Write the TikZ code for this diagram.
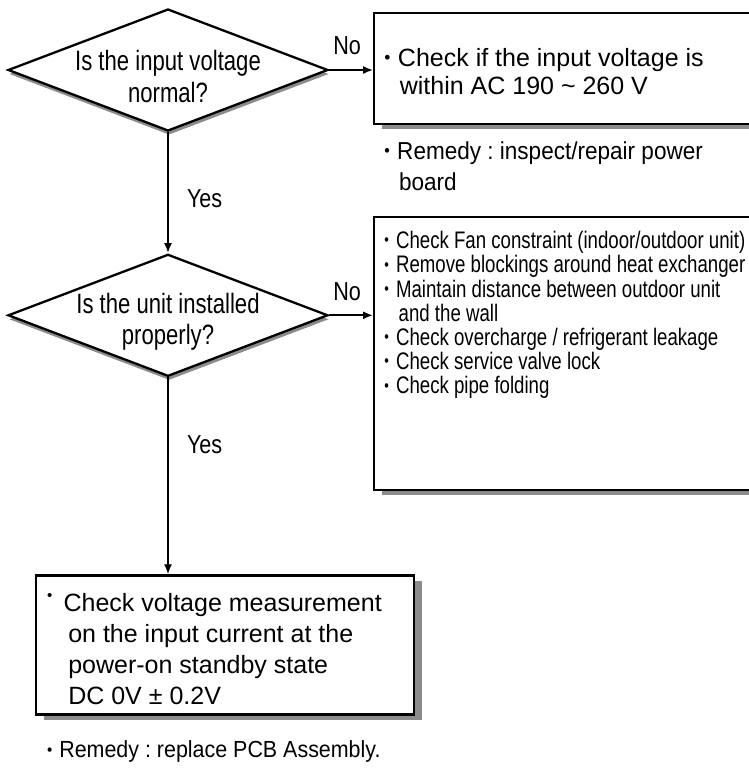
\documentclass[tikz,border=0pt]{standalone}
\usepackage{fontspec}
\setmainfont{Liberation Sans}
\newfontfamily\narrowfont[FakeStretch=0.79]{Liberation Sans}
\newfontfamily\listfont[FakeStretch=0.78]{Liberation Sans}
\newfontfamily\labelfont[FakeStretch=0.83]{Liberation Sans}
\newfontfamily\remedyfont[FakeStretch=0.92]{Liberation Sans}
\usepackage{graphicx}
\usepackage{tikz}
\usetikzlibrary{shapes,arrows,arrows.meta,positioning,calc,shadows}
\frenchspacing
\tikzstyle{decision} = [diamond, draw, line width=2.3pt, fill=white, aspect=2.62, minimum width=320pt, minimum height=122pt, inner sep=-20pt, align=center, font=\narrowfont\fontsize{28}{31.5}\selectfont, drop shadow={shadow xshift=1pt, shadow yshift=-4pt, fill=black!45, opacity=1}]
\tikzstyle{block} = [rectangle, draw, line width=2.3pt, fill=white, drop shadow={shadow xshift=8pt, shadow yshift=-5pt, fill=black!45, opacity=1}]
\tikzstyle{note} = [align=left, inner sep=0pt]
\tikzstyle{line} = [draw, -{Latex[length=10pt, width=8pt]}, line width=2pt]
\tikzstyle{answer} = [inner sep=0pt, font=\labelfont\fontsize{26}{28}\selectfont]
\newcommand{\bul}{\raisebox{0.12em}{\scalebox{0.7}{\textbullet}}\hspace{0.3em}}

\begin{document}
\begin{tikzpicture}[x=1pt, y=1pt, node distance=44pt]
        \path [use as bounding box, clip] (0,0) rectangle (749,-771);
        % Nodes
        \node [decision] (voltage) at (168,-70) {\rule{0pt}{33pt}Is the input voltage\\normal?};
        \node [block, right=44pt of voltage, yshift=1.5pt, minimum width=390pt, minimum height=111pt] (acbox) {};
        \node [decision, below=121pt of voltage] (install) {\rule{0pt}{33pt}Is the unit installed\\properly?};
        \node [block, right=44pt of install, yshift=-38.5pt, minimum width=390pt, minimum height=273pt] (checks) {};
        \node [block, below=197pt of install, xshift=57pt, minimum width=378pt, minimum height=139pt] (standby) {};

        % Texts
        \node [note, below right=36pt and 11pt of acbox.north west, font=\fontsize{25}{28}\selectfont] (actext)
            {\bul Check if the input voltage is\\\hspace{0.62em}within AC 190 {\textasciitilde} 260 V};
        \node [note, below right=16.5pt and 11pt of acbox.south west, font=\remedyfont\fontsize{24.5}{30.5}\selectfont] (acremedy)
            {\bul Remedy : inspect/repair power\\\hspace{0.6em}board};
        \node [note, below right=15pt and 11pt of checks.north west, font=\listfont\fontsize{23.9}{24.2}\selectfont] (checktext)
            {\bul Check Fan constraint (indoor/outdoor unit)\\
             \bul Remove blockings around heat exchanger\\
             \bul Maintain distance between outdoor unit\\
             \hspace{0.6em}and the wall\\
             \bul Check overcharge / refrigerant leakage\\
             \bul Check service valve lock\\
             \bul Check pipe folding};
        \node [note, below right=19pt and 12pt of standby.north west, font=\fontsize{25}{31}\selectfont] (standbytext)
            {\raisebox{0.45em}{\scalebox{0.6}{\textbullet}}\hspace{0.45em}Check voltage measurement\\
             \hspace{0.85em}on the input current at the\\
             \hspace{0.85em}power-on standby state\\
             \hspace{0.85em}DC 0V ± 0.2V};
        \node [note, below right=25pt and 12pt of standby.south west, font=\remedyfont\fontsize{23.3}{26}\selectfont] (pcbremedy)
            {\bul Remedy : replace PCB Assembly.};

        % Paths
        \path [line] (voltage.east) -- node [answer, pos=0.41, above=14pt] {No} (voltage.east -| acbox.west);
        \path [line] (voltage.south) -- node [answer, pos=0.55, right=18pt] {Yes} (install.north);
        \path [line] (install.east) -- node [answer, pos=0.41, above=14pt] {No} (install.east -| checks.west);
        \path [line] (install.south) -- node [answer, pos=0.34, right=18pt] {Yes} (install.south |- standby.north);
    \end{tikzpicture}
\end{document}
